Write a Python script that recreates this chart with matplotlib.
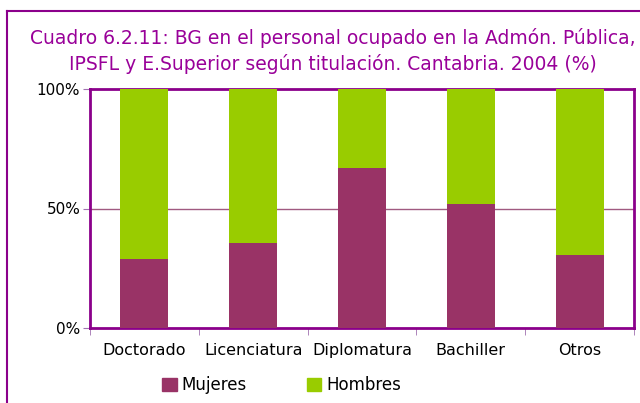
import matplotlib
matplotlib.use("Agg")
import matplotlib.pyplot as plt
from matplotlib.patches import Patch
from matplotlib.lines import Line2D
import numpy as np

categories = ["Doctorado", "Licenciatura", "Diplomatura", "Bachiller", "Otros"]
mujeres = [28.9, 35.6, 66.9, 51.9, 30.5]
hombres = [71.1, 64.4, 33.1, 48.1, 69.5]
yticks = [0, 50, 100]
ytick_labels = ["0%", "50%", "100%"]

plt.rcParams['font.family'] = ['DejaVu Sans']
purple = "#8B008B"
c_muj = "#993366"
c_hom = "#99CC00"

fig = plt.figure(figsize=(6.4, 4.03), dpi=100)
fx = 6.5 / 640
fy = 1 - 10.5 / 403
fig.add_artist(Line2D([fx, fx], [0, fy], transform=fig.transFigure, color=purple, linewidth=1.5))
fig.add_artist(Line2D([fx, 1.0], [fy, fy], transform=fig.transFigure, color=purple, linewidth=1.5))

ax = fig.add_axes([90/640, 1-328/403, 544/640, 239/403])
x = np.arange(len(categories))
ax.bar(x, mujeres, width=0.44, color=c_muj, zorder=3)
ax.bar(x, hombres, width=0.44, bottom=mujeres, color=c_hom, zorder=3)
ax.set_xlim(-0.5, len(categories) - 0.5)
ax.set_ylim(0, 100)
ax.set_yticks(yticks)
ax.set_yticklabels(ytick_labels, fontsize=11)
ax.set_xticks(x)
ax.set_xticklabels(categories, fontsize=11.5)
ax.set_xticks(np.arange(len(categories) + 1) - 0.5, minor=True)
ax.tick_params(axis='x', which='major', length=0, pad=11)
ax.tick_params(axis='x', which='minor', length=5, color="#a070b0", direction='out')
ax.tick_params(axis='y', length=5, color="#a070b0", pad=2)
ax.axhline(50, color="#a05a80", linewidth=1, zorder=2)
for s in ax.spines.values():
    s.set_color(purple)
    s.set_linewidth(2)
fig.text(0.52, 1-51/403, "Cuadro 6.2.11: BG en el personal ocupado en la Admón. Pública,\nIPSFL y E.Superior según titulación. Cantabria. 2004 (%)",
         ha='center', va='center', fontsize=13.5, color="#990099", linespacing=1.35)
handles = [Patch(color=c_muj, label="Mujeres"), Patch(color=c_hom, label="Hombres")]
fig.legend(handles=handles, loc='center', bbox_to_anchor=(0.44, 1-385/403), ncol=2,
           frameon=False, fontsize=12, handlelength=0.85, handleheight=0.85,
           columnspacing=3.6, handletextpad=0.3)
fig.savefig("out.png", dpi=100)
